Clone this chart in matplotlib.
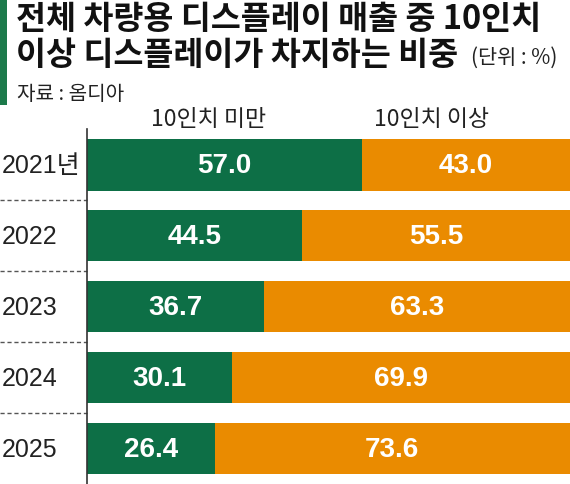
import matplotlib
matplotlib.use("Agg")
import matplotlib.pyplot as plt
from matplotlib.patches import Rectangle
import matplotlib.transforms as mtransforms

# data
years = ["2021년", "2022", "2023", "2024", "2025"]
under10 = [57.0, 44.5, 36.7, 30.1, 26.4]
over10 = [43.0, 55.5, 63.3, 69.9, 73.6]
series_names = ["10인치 미만", "10인치 이상"]

GREEN = "#0d6f46"
ORANGE = "#ea8b00"
KR = ["Noto Sans CJK KR", "DejaVu Sans"]
LAB = ["Liberation Sans", "Noto Sans CJK KR"]
W, H = 570, 485

fig = plt.figure(figsize=(W / 100, H / 100), dpi=100)
fig.patch.set_facecolor("white")

def fx(px): return px / W
def fy(py): return 1 - py / H

# title block
fig.add_artist(Rectangle((0, fy(106)), fx(7), 106 / H, transform=fig.transFigure,
                         color="#1c7a4b", lw=0))
fig.text(fx(16), fy(20), "전체 차량용 디스플레이 매출 중 10인치", family=KR, weight="heavy",
         fontsize=23.5, va="center", ha="left", color="#111111")
fig.text(fx(16), fy(56), "이상 디스플레이가 차지하는 비중", family=KR, weight="heavy",
         fontsize=23.5, va="center", ha="left", color="#111111")
fig.text(fx(471), fy(58), "(단위 : %)", family=KR, fontsize=15, va="center", ha="left",
         color="#222222")
fig.text(fx(17), fy(95), "자료 : 옴디아", family=KR, fontsize=14.5, va="center", ha="left",
         color="#222222")

# bars area: x from 87px to 570px, y from 130px to 485px
top, bot, left = 130, 485, 87
pitch, c0 = 70.9, 166
ax = fig.add_axes([fx(left), 0, 1 - fx(left), (bot - top) / H])
ypos = list(range(len(years)))
ax.barh(ypos, under10, height=0.72, color=GREEN, lw=0)
ax.barh(ypos, over10, left=under10, height=0.72, color=ORANGE, lw=0)
ax.set_xlim(0, 100)
ax.set_ylim((bot - c0) / pitch, (top - c0) / pitch)
for s in ["top", "right", "bottom"]:
    ax.spines[s].set_visible(False)
ax.spines["left"].set_color("#333333")
ax.spines["left"].set_linewidth(1.2)
ax.set_xticks([])
ax.set_yticks([])

for i, (a, b) in enumerate(zip(under10, over10)):
    ax.text(a / 2, i, f"{a:.1f}", ha="center", va="center", color="white",
            family="Liberation Sans", weight="bold", fontsize=20)
    ax.text(a + b / 2, i, f"{b:.1f}", ha="center", va="center", color="white",
            family="Liberation Sans", weight="bold", fontsize=20)

# year labels and dashed separators left of the axis
trans = mtransforms.blended_transform_factory(fig.transFigure, ax.transData)
for i, y in enumerate(years):
    fig.text(fx(2), i, y, transform=trans, family=LAB, fontsize=18,
             ha="left", va="center", color="#222222")
for i in range(len(years) - 1):
    ax.plot([0, fx(left)], [i + 0.5, i + 0.5], transform=trans, color="#555555",
            lw=1, ls=(0, (3, 2)), clip_on=False)

# series headers
fig.text(fx(209), fy(119), series_names[0], family=KR, fontsize=16.5, ha="center",
         va="center", color="#222222")
fig.text(fx(432), fy(119), series_names[1], family=KR, fontsize=16.5, ha="center",
         va="center", color="#222222")

fig.savefig("out.png", dpi=100)
